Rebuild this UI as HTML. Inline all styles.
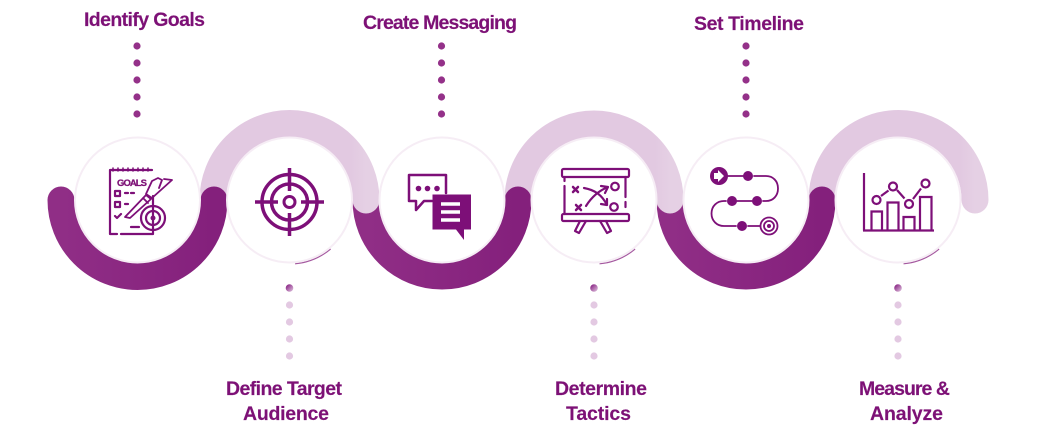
<!DOCTYPE html>
<html><head><meta charset="utf-8"><style>
html,body{margin:0;padding:0;background:#fff;width:1057px;height:439px;overflow:hidden}
svg{display:block}
text{font-family:"Liberation Sans",sans-serif;font-weight:700;font-size:19.500px;fill:#7d1176;stroke:#7d1176;stroke-width:.15}
.i{fill:none;stroke:#7d0f78;stroke-width:2.200;stroke-linecap:round;stroke-linejoin:round}
.f{fill:#7d0f78;stroke:none}
</style></head><body>
<svg width="1057" height="439" viewBox="0 0 1057 439" xmlns="http://www.w3.org/2000/svg">
<defs>
<linearGradient id="dk" x1="0" y1="0" x2="1" y2="0"><stop offset="0" stop-color="#902e86"/><stop offset="1" stop-color="#84207c"/></linearGradient>
<linearGradient id="lt" x1="0" y1="0" x2="1" y2="0"><stop offset="0" stop-color="#e2c9e1"/><stop offset=".9" stop-color="#e2c9e1"/><stop offset="1" stop-color="#e5d0e4"/></linearGradient>
<linearGradient id="dot" x1="0" y1="0" x2="1" y2="1"><stop offset="0" stop-color="#7d0f78"/><stop offset="1" stop-color="#e3c9e2"/></linearGradient>
</defs>

<!-- arcs: painted right to left so each overlap stacks like the reference -->
<g fill="none" stroke-linecap="round" stroke-width="27">
<path d="M822 200A76.500 76.500 0 0 1 975 200" stroke="url(#lt)"/>
<path d="M670 200A76 76 0 0 0 822 200" stroke="url(#dk)"/>
<path d="M518 200A76 76 0 0 1 670 200" stroke="url(#lt)"/>
<path d="M366 200A76 76 0 0 0 518 200" stroke="url(#dk)"/>
<path d="M213 200A76.500 76.500 0 0 1 366 200" stroke="url(#lt)"/>
<path d="M61 200A76.500 76.500 0 0 0 214 200" stroke="url(#dk)"/>
</g>

<!-- soft dark edges -->
<g fill="none" stroke="#a263a0" stroke-width="1.500">
<path d="M228 190A64 64 0 0 1 351 190"/>
<path d="M533 190A64 64 0 0 1 655 190"/>
<path d="M837 190A64 64 0 0 1 959 190"/>
</g>
<g fill="none" stroke="#7d1176" stroke-width="1.200" stroke-opacity=".7">
<path d="M330.600 249A64 64 0 0 1 295 263.800"/>
<path d="M635.100 249A64 64 0 0 1 599.500 263.800"/>
<path d="M939.100 249A64 64 0 0 1 903.500 263.800"/>
</g>

<!-- circles -->
<g fill="#fff" stroke="#f6edf5" stroke-width="2">
<circle cx="137.500" cy="200" r="62.500"/>
<circle cx="289.500" cy="200" r="62.500"/>
<circle cx="442" cy="200" r="62.500"/>
<circle cx="594" cy="200" r="62.500"/>
<circle cx="746" cy="200" r="62.500"/>
<circle cx="898" cy="200" r="62.500"/>
</g>

<!-- dots -->
<g fill="#943189">
<circle cx="137" cy="46" r="3.600"/><circle cx="137" cy="63" r="3.600"/><circle cx="137" cy="80" r="3.600"/><circle cx="137" cy="97" r="3.600"/><circle cx="137" cy="114" r="3.600"/>
<circle cx="441.500" cy="46" r="3.600"/><circle cx="441.500" cy="63" r="3.600"/><circle cx="441.500" cy="80" r="3.600"/><circle cx="441.500" cy="97" r="3.600"/><circle cx="441.500" cy="114" r="3.600"/>
<circle cx="746" cy="46" r="3.600"/><circle cx="746" cy="63" r="3.600"/><circle cx="746" cy="80" r="3.600"/><circle cx="746" cy="97" r="3.600"/><circle cx="746" cy="114" r="3.600"/>
</g>
<g fill="#e3c9e2">
<circle cx="289.500" cy="305" r="3.600"/><circle cx="289.500" cy="322" r="3.600"/><circle cx="289.500" cy="339" r="3.600"/><circle cx="289.500" cy="356" r="3.600"/>
<circle cx="594" cy="305" r="3.600"/><circle cx="594" cy="322" r="3.600"/><circle cx="594" cy="339" r="3.600"/><circle cx="594" cy="356" r="3.600"/>
<circle cx="898" cy="305" r="3.600"/><circle cx="898" cy="322" r="3.600"/><circle cx="898" cy="339" r="3.600"/><circle cx="898" cy="356" r="3.600"/>
</g>
<g fill="url(#dot)">
<circle cx="289.500" cy="288" r="3.800"/><circle cx="594" cy="288" r="3.800"/><circle cx="898" cy="288" r="3.800"/>
</g>

<!-- icon 1 goals -->
<g class="i">
<path d="M153 196V234H121M117 234H110V170H152"/>
<path d="M113 168v3M118 168v3M123 168v3M128 168v3M133 168v3M138 168v3M143 168v3M148 168v3" stroke-width="1.500"/>
<rect x="115" y="191" width="5" height="5"/><rect x="115" y="202" width="5" height="5"/>
<path d="M125 193h3M131 193h3M125 204h3M115 216l2 2 4-4M131 227h8"/>
<path d="M125 217l21-22 5 4-21 19zM143 198l5 5M152 181l-6 13 6 4 10-9M152 181l6-3 4 2-3 8M162 189l10-9-8-1" style="stroke-width:1.800"/>
<circle cx="153" cy="218" r="12"/><circle cx="153" cy="218" r="7"/>
<circle class="f" cx="153" cy="218" r="2.500"/>
</g>
<text x="117" y="186" style="font-size:9.500px;stroke-width:.25" textLength="30" lengthAdjust="spacing">GOALS</text>

<!-- icon 2 target -->
<g class="i" style="stroke-width:3.500">
<circle cx="289.500" cy="202" r="27.500"/>
<circle cx="289.500" cy="202" r="18"/>
<circle cx="289.500" cy="202" r="5.500" style="stroke-width:3"/>
<path d="M255 202H278M301 202H324M289.500 168V191M289.500 213V236" style="stroke-linecap:butt"/>
</g>

<!-- icon 3 chat -->
<path class="i" d="M446 193V175H409V201H416V210L424 201H432" style="stroke-width:2.500"/>
<circle class="f" cx="418.500" cy="188.500" r="2.800"/><circle class="f" cx="427.500" cy="188.500" r="2.800"/><circle class="f" cx="437" cy="188.500" r="2.800"/>
<path class="f" d="M432.500 194.500H471V229.500H464V240L456 229.500H432.500Z"/>
<path d="M441 204H460M441 212H460M441 220H460" stroke="#fff" stroke-width="3.500" fill="none"/>

<!-- icon 4 board -->
<g class="i" style="stroke-width:2.200">
<rect x="562" y="169" width="67" height="8" rx="1.500"/>
<rect x="562" y="214" width="67" height="7" rx="1.500"/>
<path d="M564.500 186V214M564.500 177V181M625.500 177V197M625.500 202V207"/>
<path d="M573 187l5 5M578 187l-5 5M576 205l5 5M581 205l-5 5" style="stroke-width:2.500"/>
<circle cx="615" cy="186.500" r="3.800"/><circle cx="614" cy="207" r="3.800"/>
<path d="M584 188c11 2 18 7 23 17M586 206c5-8 12-15 22-19M601 186l7 1-3 6M607 199l0 6-6-1"/>
<path d="M580 221l-5 10 4 2 7-12M606 221l5 10-4 2-7-12"/>
</g>

<!-- icon 5 timeline -->
<circle class="f" cx="719" cy="176" r="9"/>
<path d="M714 173h4v-3l6 6-6 6v-3h-4z" fill="#fff"/>
<g class="i" style="stroke-width:1.800">
<path d="M728 176H743M754 176H766C773 176 778 181 778 188.500S773 201 766 201H763M752 201H737M726 201H724C717 201 711.500 206 711.500 213.500S717 226 724 226H736M748 226H760"/>
<circle cx="769" cy="226" r="8.500"/><circle cx="769" cy="226" r="5"/>
</g>
<circle class="f" cx="748" cy="176" r="5"/><circle class="f" cx="757" cy="201" r="5"/><circle class="f" cx="732" cy="201" r="5"/><circle class="f" cx="742" cy="226" r="5"/><circle class="f" cx="769" cy="226" r="2"/>

<!-- icon 6 chart -->
<g class="i" style="stroke-linecap:butt;stroke-linejoin:miter">
<path d="M864 173V230.500M863 230.500H934"/>
<path d="M871.500 230V211.500H882V230M887.500 230V202.500H898.500V230M903.500 230V217H914.500V230M920 230V197H931.500V230"/>
<circle cx="876.500" cy="200" r="4"/><circle cx="893" cy="186.500" r="4"/><circle cx="909" cy="204" r="4"/><circle cx="925.500" cy="183.500" r="4"/>
<path d="M881 196L888.500 190.500M897 190L904.500 198.500M913 199L921 188.500"/>
</g>

<!-- labels -->
<text x="84" y="26" textLength="121" lengthAdjust="spacing">Identify Goals</text>
<text x="363" y="29" textLength="154" lengthAdjust="spacing">Create Messaging</text>
<text x="694" y="30" textLength="110" lengthAdjust="spacing">Set Timeline</text>
<text x="226" y="395" textLength="116" lengthAdjust="spacing">Define Target</text>
<text x="243" y="420" textLength="86" lengthAdjust="spacing">Audience</text>
<text x="555" y="395" textLength="92" lengthAdjust="spacing">Determine</text>
<text x="566" y="420" textLength="65" lengthAdjust="spacing">Tactics</text>
<text x="859" y="395" textLength="91" lengthAdjust="spacing">Measure &amp;</text>
<text x="870" y="420" textLength="73" lengthAdjust="spacing">Analyze</text>
</svg>
</body></html>
